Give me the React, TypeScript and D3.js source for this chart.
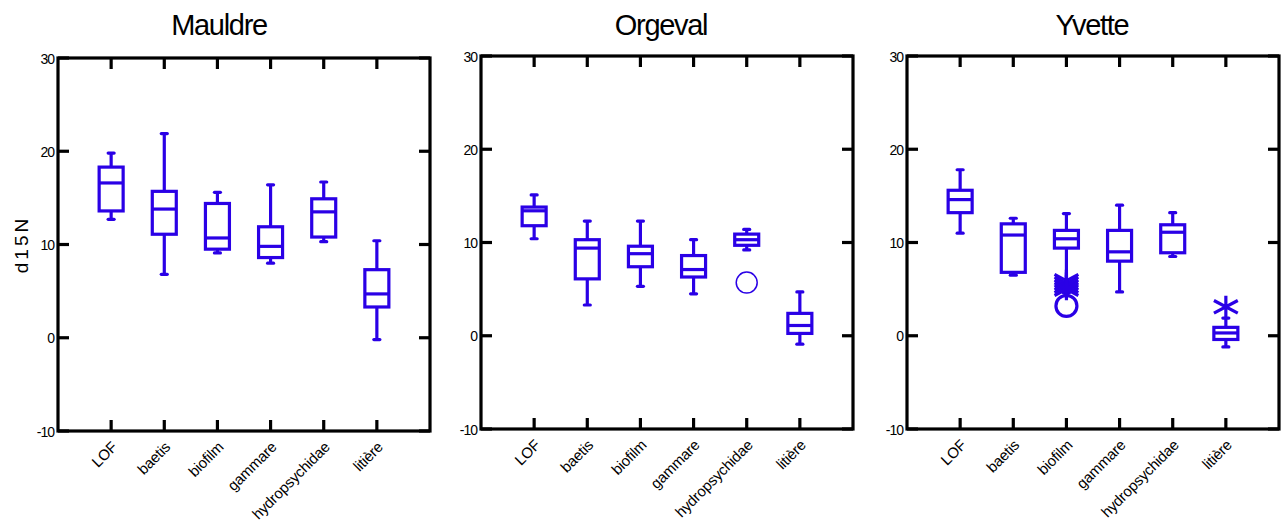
import React from 'react';
import * as d3 from 'd3';

// d15N boxplots per site: [low whisker, q1, median, q3, high whisker]
const categories = ['LOF', 'baetis', 'biofilm', 'gammare', 'hydropsychidae', 'litière'];
const sites = ['Mauldre', 'Orgeval', 'Yvette'];
const yTicks = [-10, 0, 10, 20, 30];

const mauldreBoxes = [
  [12.7, 13.6, 16.6, 18.3, 19.8],
  [6.8, 11.1, 13.8, 15.7, 21.9],
  [9.1, 9.5, 10.7, 14.4, 15.6],
  [8.0, 8.6, 9.8, 11.9, 16.4],
  [10.3, 10.8, 13.5, 14.9, 16.7],
  [-0.2, 3.3, 4.7, 7.3, 10.4],
];
const orgevalBoxes = [
  [10.4, 11.8, 13.4, 13.8, 15.1],
  [3.3, 6.1, 9.4, 10.3, 12.3],
  [5.3, 7.4, 8.8, 9.6, 12.3],
  [4.5, 6.3, 7.1, 8.6, 10.3],
  [9.2, 9.7, 10.3, 10.9, 11.4],
  [-0.9, 0.25, 1.1, 2.4, 4.7],
];
const yvetteBoxes = [
  [11.0, 13.2, 14.6, 15.6, 17.8],
  [6.5, 6.8, 10.8, 12.0, 12.6],
  [4.6, 9.4, 10.4, 11.3, 13.1],
  [4.7, 8.0, 9.0, 11.3, 14.0],
  [8.5, 8.9, 11.1, 11.9, 13.2],
  [-1.2, -0.4, 0.3, 0.9, 1.9],
];

// outside values (stars) and far outside values (circles)
const orgevalCircles = [{ cat: 'hydropsychidae', value: 5.7 }];
const yvetteStars = [
  { cat: 'biofilm', value: 5.9 },
  { cat: 'biofilm', value: 5.6 },
  { cat: 'biofilm', value: 5.3 },
  { cat: 'biofilm', value: 5.0 },
  { cat: 'litière', value: 3.1 },
];
const yvetteCircles = [{ cat: 'biofilm', value: 3.2 }];

const boxesBySite = [mauldreBoxes, orgevalBoxes, yvetteBoxes];
const starsBySite = [[], [], yvetteStars];
const circlesBySite = [[], orgevalCircles, yvetteCircles];

const W = 1285;
const H = 522;
const BLUE = '#2a00e6';
const FONT = '"Liberation Sans", Arial, sans-serif';

const panels = [
  { left: 58, top: 58, titleX: 219, circleStroke: 3 },
  { left: 481, top: 56, titleX: 661, circleStroke: 1.5 },
  { left: 907, top: 56, titleX: 1092, circleStroke: 3.2 },
];
const pw = 372;
const ph = 373;
const tickLen = 11;
const boxW = 24;
const capW = 3;

// asterisk marker: one vertical arm pair and two flatter diagonals
const starPath = () => {
  const p = d3.path();
  p.moveTo(0, -11);
  p.lineTo(0, 11);
  [28, -28].forEach((a) => {
    const t = (a * Math.PI) / 180;
    const r = 13.5;
    p.moveTo(-r * Math.cos(t), -r * Math.sin(t));
    p.lineTo(r * Math.cos(t), r * Math.sin(t));
  });
  return p.toString();
};

const Panel = ({ idx }: { idx: number }) => {
  const cfg = panels[idx];
  const x = d3.scalePoint<string>().domain(categories).range([0, pw]).padding(1);
  const y = d3.scaleLinear().domain([-10, 30]).range([ph, 0]);
  const boxes = boxesBySite[idx];

  return (
    <g>
      <text
        x={cfg.titleX}
        y={35}
        textAnchor="middle"
        fontFamily={FONT}
        fontSize={29}
        letterSpacing={-1.3}
      >
        {sites[idx]}
      </text>
      <g transform={`translate(${cfg.left},${cfg.top})`}>
        {boxes.map(([lo, q1, med, q3, hi], i) => {
          const cx = x(categories[i])!;
          return (
            <g key={i} stroke={BLUE} fill="none" strokeWidth={3.2}>
              <line x1={cx} x2={cx} y1={y(hi)} y2={y(q3)} />
              <line x1={cx} x2={cx} y1={y(q1)} y2={y(lo)} />
              <line x1={cx - capW} x2={cx + capW} y1={y(hi)} y2={y(hi)} strokeLinecap="round" />
              <line x1={cx - capW} x2={cx + capW} y1={y(lo)} y2={y(lo)} strokeLinecap="round" />
              <rect x={cx - boxW / 2} y={y(q3)} width={boxW} height={y(q1) - y(q3)} />
              <line x1={cx - boxW / 2} x2={cx + boxW / 2} y1={y(med)} y2={y(med)} />
            </g>
          );
        })}
        {starsBySite[idx].map((d, i) => (
          <path
            key={'s' + i}
            d={starPath()}
            transform={`translate(${x(d.cat)},${y(d.value)})`}
            stroke={BLUE}
            strokeWidth={3.2}
            fill="none"
          />
        ))}
        {circlesBySite[idx].map((d, i) => (
          <circle
            key={'c' + i}
            cx={x(d.cat)}
            cy={y(d.value)}
            r={10.5}
            stroke={BLUE}
            strokeWidth={cfg.circleStroke}
            fill="none"
          />
        ))}
        {/* frame and ticks */}
        <rect x={0} y={0} width={pw} height={ph} fill="none" stroke="#000" strokeWidth={3.2} />
        {yTicks.map((t) => (
          <g key={t}>
            <line x1={0} x2={tickLen} y1={y(t)} y2={y(t)} stroke="#000" strokeWidth={3.2} />
            <line x1={pw - tickLen} x2={pw} y1={y(t)} y2={y(t)} stroke="#000" strokeWidth={3.2} />
            <text
              x={-4}
              y={y(t) + 2}
              textAnchor="end"
              dominantBaseline="middle"
              fontFamily={FONT}
              fontSize={14}
              letterSpacing={-1}
            >
              {t}
            </text>
          </g>
        ))}
        {categories.map((c) => (
          <g key={c}>
            <line x1={x(c)} x2={x(c)} y1={0} y2={tickLen} stroke="#000" strokeWidth={3.2} />
            <line x1={x(c)} x2={x(c)} y1={ph - tickLen} y2={ph} stroke="#000" strokeWidth={3.2} />
            <text
              transform={`translate(${x(c)! + 7},${ph + 17}) rotate(-45)`}
              textAnchor="end"
              fontFamily={FONT}
              fontSize={15}
              letterSpacing={-0.2}
            >
              {c}
            </text>
          </g>
        ))}
        {idx === 0 && (
          <text
            transform={`translate(${-30},${y(10)}) rotate(-90)`}
            textAnchor="middle"
            fontFamily={FONT}
            fontSize={19}
            letterSpacing={3}
          >
            d15N
          </text>
        )}
      </g>
    </g>
  );
};

const App = () => (
  <div style={{ position: 'fixed', left: 0, top: 0, background: '#fff' }}>
    <svg width={W} height={H} style={{ display: 'block' }}>
      {sites.map((s, i) => (
        <Panel key={s} idx={i} />
      ))}
    </svg>
  </div>
);

export default App;
